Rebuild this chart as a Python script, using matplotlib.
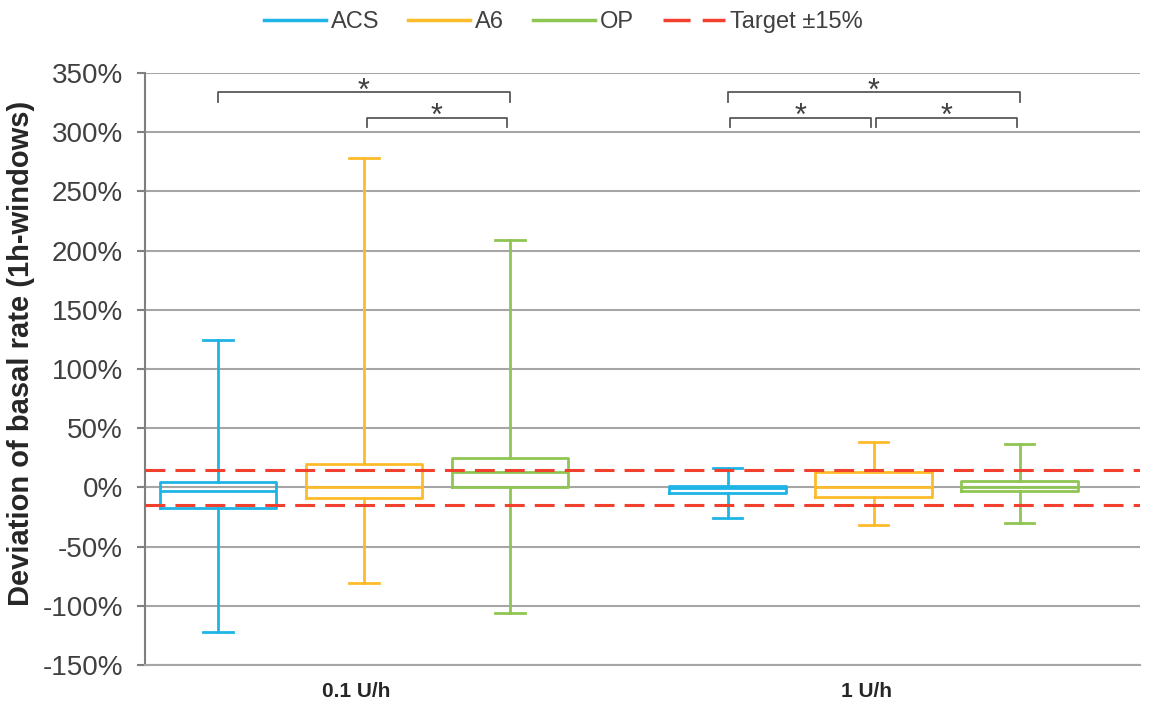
import matplotlib
matplotlib.use("Agg")
import matplotlib.pyplot as plt
from matplotlib.lines import Line2D
from matplotlib.ticker import PercentFormatter

plt.rcParams['font.family'] = ['Liberation Sans', 'DejaVu Sans']
plt.rcParams['axes.unicode_minus'] = False

# data (deviation in %), per device: [0.1 U/h, 1 U/h]
groups = ['0.1 U/h', '1 U/h']
devices = ['ACS', 'A6', 'OP']
colors = ['#1fb4e6', '#fdbb2a', '#8fc553']

whis_low = [[-122, -25.5], [-81, -32], [-106.5, -30]]
q1 = [[-17.7, -5.1], [-9.3, -7.9], [0, -3.1]]
median = [[-3.1, -0.5], [0, 0], [13.2, 0.6]]
q3 = [[4.8, 1.4], [19.4, 12.7], [25, 5.6]]
whis_high = [[124.5, 16.6], [278.2, 38], [209, 36.3]]

target = 15
target_label = 'Target ±15%'

# significance brackets: (group, device a, device b, row)
brackets = [(0, 0, 2, 0), (0, 1, 2, 1), (1, 0, 2, 0), (1, 0, 1, 1), (1, 1, 2, 1)]
bracket_y = [333.7, 312.2]

group_centers = [1.5, 4.99]
offsets = [-1, 0, 1]
red = '#f2402e'

fig = plt.figure(figsize=(11.55, 7.04), dpi=100)
ax = fig.add_axes([0.1255, 0.0554, 0.8615, 0.8409])

for d in range(len(devices)):
    stats = []
    for g in range(len(groups)):
        stats.append(dict(whislo=whis_low[d][g], q1=q1[d][g], med=median[d][g],
                          q3=q3[d][g], whishi=whis_high[d][g], fliers=[]))
    pos = [group_centers[g] + offsets[d] for g in range(len(groups))]
    lp = dict(color=colors[d], lw=2.0)
    ax.bxp(stats, positions=pos, widths=0.8, capwidths=0.2, showfliers=False,
           boxprops=lp, whiskerprops=lp, capprops=lp, medianprops=lp,
           manage_ticks=False, zorder=3)

# target band
for t in (target, -target):
    ax.axhline(t, color=red, lw=2.2, dashes=(6.5, 3.3), zorder=4)

# significance brackets
for g, a, b, row in brackets:
    x1 = group_centers[g] + offsets[a]
    x2 = group_centers[g] + offsets[b]
    if row == 1:
        x1 += 0.02
        x2 -= 0.02
    y = bracket_y[row]
    ax.plot([x1, x1, x2, x2], [y - 8, y, y, y - 8], color='#595959', lw=1.3,
            clip_on=False, zorder=5)
    ax.text((x1 + x2) / 2, y - 6, '*', ha='center', va='baseline',
            fontsize=22, color='#404040')

ax.set_ylim(-150, 350)
ax.set_yticks(range(-150, 351, 50))
ax.yaxis.set_major_formatter(PercentFormatter(decimals=0))
ax.set_xlim(0, 6.815)
ax.set_xticks([c - 0.05 for c in group_centers], groups)

ax.yaxis.grid(True, color='#a6a6a6', lw=1.5)
ax.set_axisbelow(True)
for s in ('top', 'right'):
    ax.spines[s].set_visible(False)
ax.spines['left'].set_color('#7f7f7f')
ax.spines['left'].set_linewidth(1.5)
ax.spines['bottom'].set_color('#a6a6a6')
ax.spines['bottom'].set_linewidth(1.5)

ax.tick_params(axis='y', direction='out', length=5.8, width=1.5, color='#7f7f7f',
               labelsize=20, labelcolor='#404040', pad=10)
ax.tick_params(axis='x', length=0, pad=12, labelsize=15, labelcolor='#262626')
for lbl in ax.get_xticklabels():
    lbl.set_fontweight('bold')

ax.set_ylabel('Deviation of basal rate (1h-windows)', fontsize=21,
              fontweight='bold', color='#262626')
ax.yaxis.set_label_coords(-0.110, 0.527)

handles = [Line2D([], [], color=c, lw=2.5) for c in colors]
handles.append(Line2D([], [], color=red, lw=2.5, dashes=(7.8, 3.5)))
leg = fig.legend(handles, devices + [target_label], loc='center',
                 bbox_to_anchor=(0.4877, 0.969), ncol=4, frameon=False,
                 fontsize=17, handlelength=2.63, handletextpad=0.2,
                 columnspacing=1.23)
for t in leg.get_texts():
    t.set_color('#404040')

fig.savefig('out.png', dpi=100)
